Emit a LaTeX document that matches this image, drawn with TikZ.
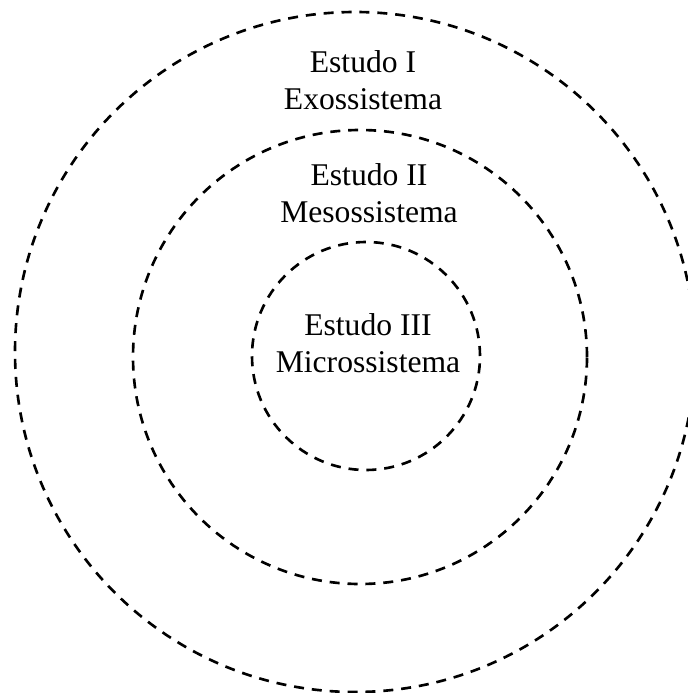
\documentclass[tikz,border=0pt]{standalone}
\usepackage{fontspec}
\setmainfont{Liberation Serif}
\begin{document}
\begin{tikzpicture}[x=0.02cm,y=-0.02cm,
  ring/.style={circle,draw,line width=1.5pt,dash pattern=on 5.7pt off 4.5pt,inner sep=0pt},
  lbl/.style={align=center,font=\fontsize{18}{21}\selectfont,inner sep=0pt}]
\useasboundingbox (0,0) rectangle (688,693);
\clip (0,0) rectangle (688,693);
\foreach \n/\cx/\cy/\r in {exo/355/352/340,meso/360/357/227,micro/366/356/114}{\node[ring,minimum size=2*\r*0.02cm] (\n) at (\cx,\cy) {};}
\node[lbl,anchor=base] (exolbl) at (363,109) {Estudo I\\Exossistema};
\node[lbl,anchor=base] (mesolbl) at (369,222) {Estudo II\\Mesossistema};
\node[lbl,anchor=base] (microlbl) at (368,372) {Estudo III\\Microssistema};
\end{tikzpicture}
\end{document}
